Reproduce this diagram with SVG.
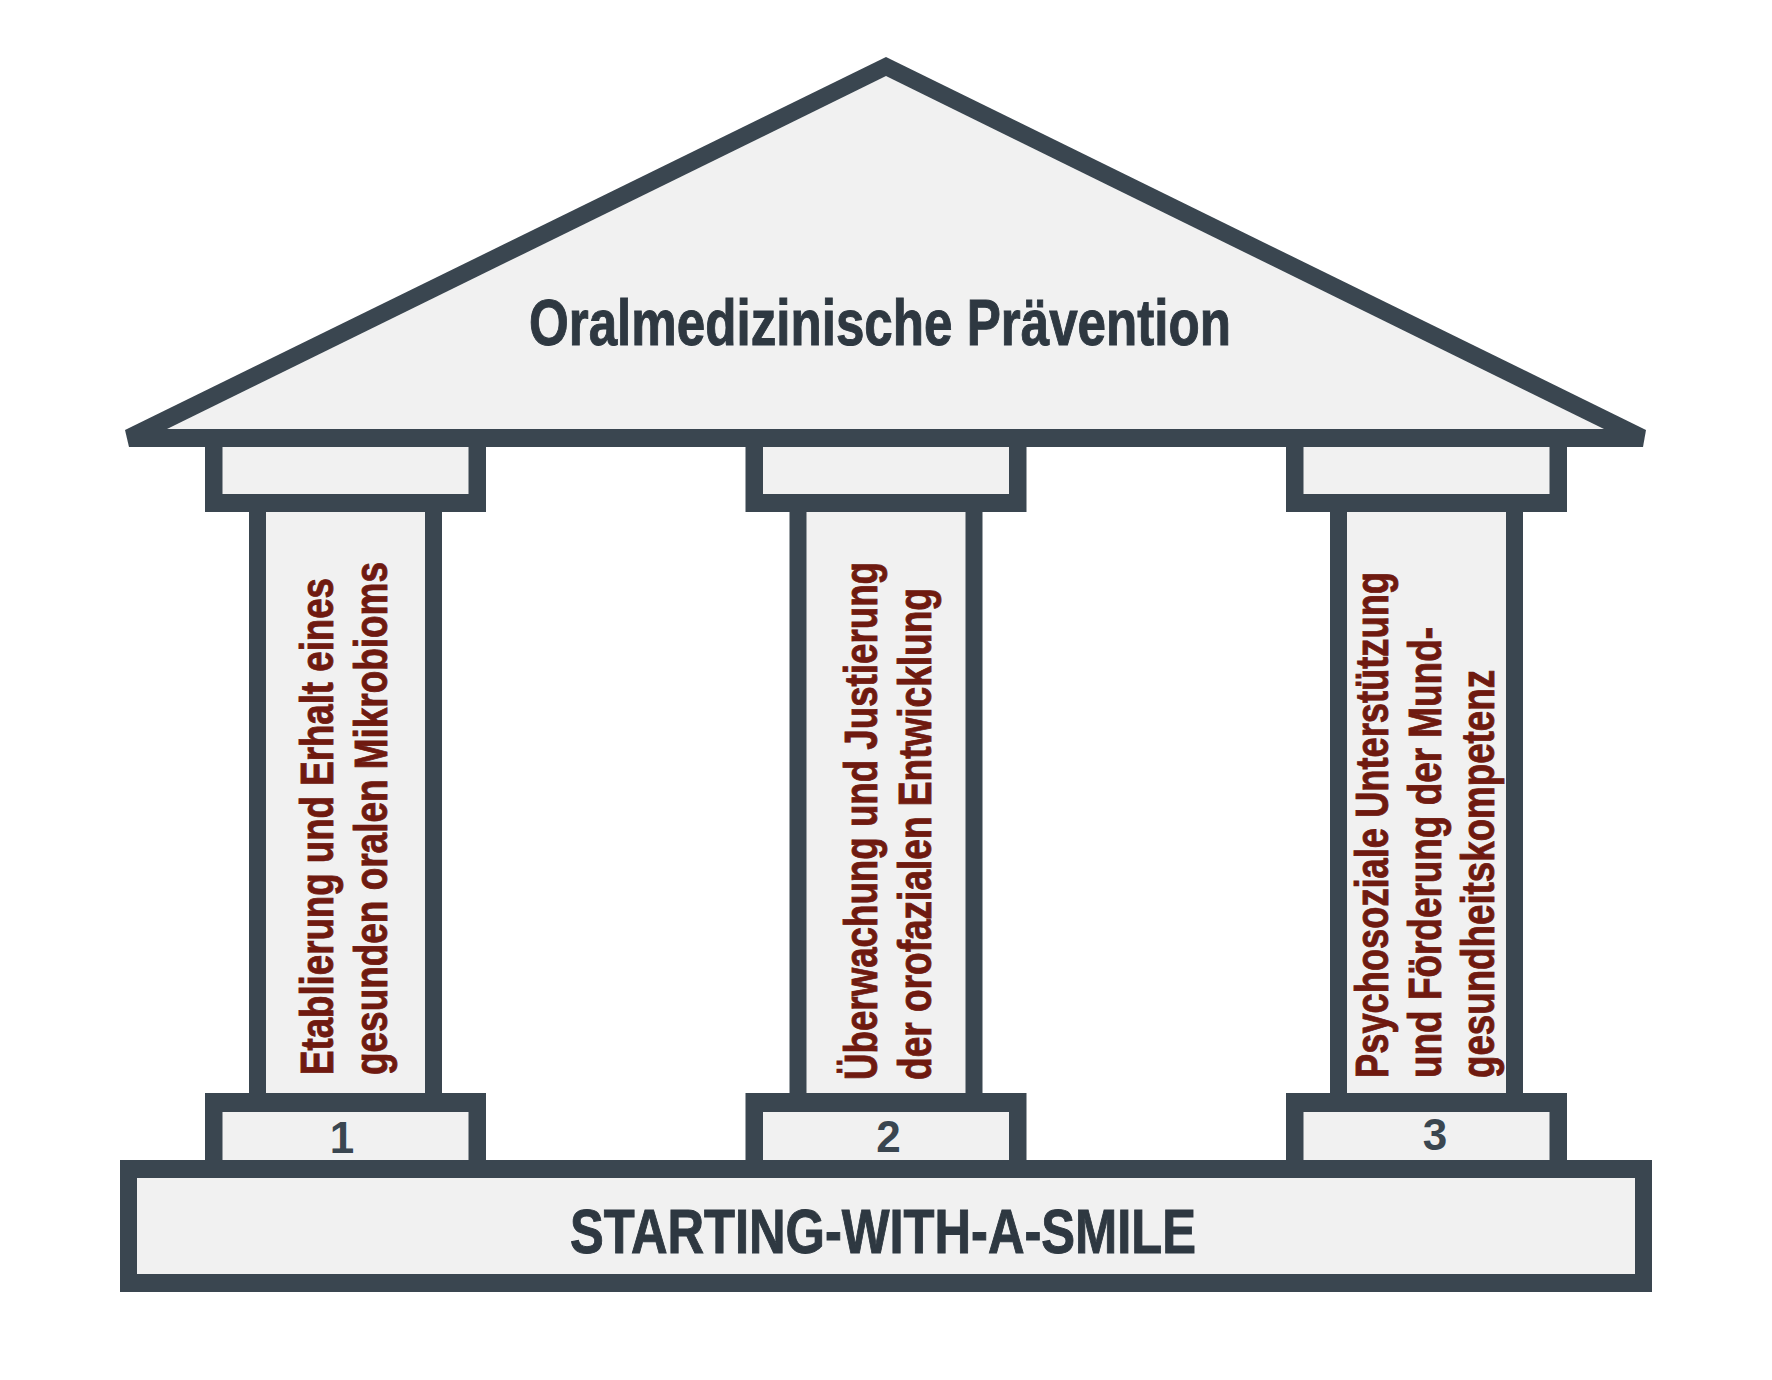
<svg xmlns="http://www.w3.org/2000/svg" width="1772" height="1380" viewBox="0 0 1772 1380">
<style>
.dk{fill:#3a4650}
.lt{fill:#f1f1f1}
.ttl{font-family:"Liberation Sans Narrow","Liberation Sans",Arial,sans-serif;font-weight:bold;fill:#2e3841;stroke:#2e3841;stroke-width:1}
.pt{font-family:"Liberation Sans Narrow","Liberation Sans",Arial,sans-serif;font-weight:bold;font-size:46px;fill:#6f1a10;stroke:#6f1a10;stroke-width:0.9}
.num{font-family:"Liberation Sans Narrow","Liberation Sans",Arial,sans-serif;font-weight:bold;font-size:44px;fill:#3a4650;text-anchor:middle}
</style>
<rect width="1772" height="1380" fill="#ffffff"/>
<g id="connectors"></g>
<g id="roof">
<polygon class="dk" points="125,430 886,57 1646,430 1643,447 129,447"/>
<polygon class="lt" points="167,429 886,76 1604,429"/>
<text class="ttl" x="529" y="345" font-size="64" textLength="702" lengthAdjust="spacingAndGlyphs">Oralmedizinische Prävention</text>
</g>
<g id="base">
<rect class="dk" x="120" y="1160" width="1532" height="132"/>
<rect class="lt" x="137" y="1178" width="1498" height="96"/>
<text class="ttl" x="570" y="1253" font-size="63" textLength="626" lengthAdjust="spacingAndGlyphs">STARTING-WITH-A-SMILE</text>
</g>
<g id="pillar-1">
<rect class="dk" x="205" y="446" width="281" height="66"/>
<rect class="lt" x="222.5" y="447" width="246" height="47"/>
<rect class="dk" x="249" y="505" width="193" height="595"/>
<rect class="lt" x="266" y="512" width="159" height="582"/>
<rect class="dk" x="205" y="1093" width="281" height="70"/>
<rect class="lt" x="222.5" y="1112" width="246" height="48"/>
<text class="num" x="342" y="1153">1</text>
<g transform="translate(333,1075) rotate(-90)"><text class="pt" x="0" y="0" textLength="497" lengthAdjust="spacingAndGlyphs">Etablierung und Erhalt eines</text></g>
<g transform="translate(387,1075) rotate(-90)"><text class="pt" x="0" y="0" textLength="513" lengthAdjust="spacingAndGlyphs">gesunden oralen Mikrobioms</text></g>
</g>
<g id="pillar-2">
<rect class="dk" x="745.5" y="446" width="281" height="66"/>
<rect class="lt" x="763" y="447" width="246" height="47"/>
<rect class="dk" x="789.5" y="505" width="193" height="595"/>
<rect class="lt" x="806.5" y="512" width="159" height="582"/>
<rect class="dk" x="745.5" y="1093" width="281" height="70"/>
<rect class="lt" x="763" y="1112" width="246" height="48"/>
<text class="num" x="888.5" y="1152">2</text>
<g transform="translate(877,1080) rotate(-90)"><text class="pt" x="0" y="0" textLength="518" lengthAdjust="spacingAndGlyphs">Überwachung und Justierung</text></g>
<g transform="translate(931,1080) rotate(-90)"><text class="pt" x="0" y="0" textLength="492" lengthAdjust="spacingAndGlyphs">der orofazialen Entwicklung</text></g>
</g>
<g id="pillar-3">
<rect class="dk" x="1286" y="446" width="281" height="66"/>
<rect class="lt" x="1303.5" y="447" width="246" height="47"/>
<rect class="dk" x="1330" y="505" width="193" height="595"/>
<rect class="lt" x="1347" y="512" width="159" height="582"/>
<rect class="dk" x="1286" y="1093" width="281" height="70"/>
<rect class="lt" x="1303.5" y="1112" width="246" height="48"/>
<text class="num" x="1435" y="1150">3</text>
<g transform="translate(1388,1078) rotate(-90)"><text class="pt" x="0" y="0" textLength="506" lengthAdjust="spacingAndGlyphs">Psychosoziale Unterstützung</text></g>
<g transform="translate(1441,1078) rotate(-90)"><text class="pt" x="0" y="0" textLength="451" lengthAdjust="spacingAndGlyphs">und Förderung der Mund-</text></g>
<g transform="translate(1494,1078) rotate(-90)"><text class="pt" x="0" y="0" textLength="408" lengthAdjust="spacingAndGlyphs">gesundheitskompetenz</text></g>
</g>
</svg>
